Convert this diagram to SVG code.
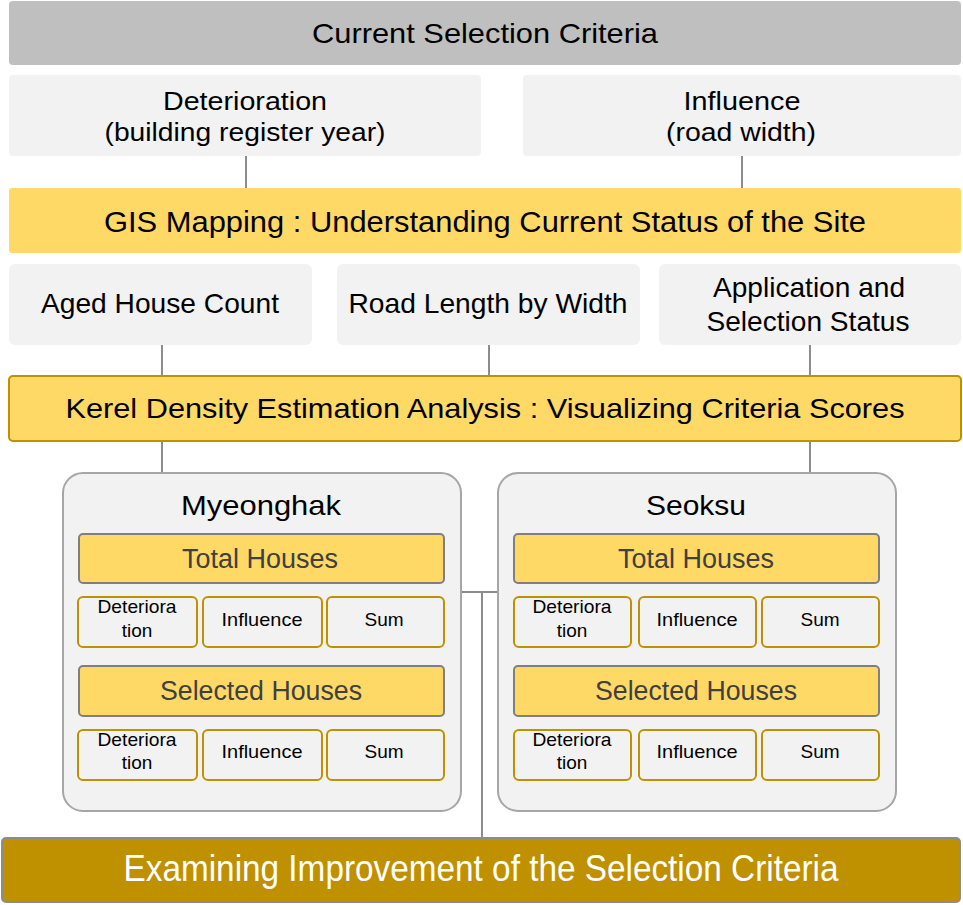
<svg xmlns="http://www.w3.org/2000/svg" width="963" height="905" viewBox="0 0 963 905">
<style>
text{font-family:"Liberation Sans","Noto Sans",Arial,sans-serif;text-anchor:middle;fill:#000}
.hdr{fill:#bfbfbf}
.lt{fill:#f2f2f2}
.yl{fill:#ffd966}
.ylb{fill:#ffd966;stroke:#bf9000;stroke-width:2}
.area{fill:#f2f2f2;stroke:#a6a6a6;stroke-width:2}
.sub{fill:#ffd966;stroke:#7f7f7f;stroke-width:2}
.cell{fill:#f2f2f2;stroke:#bf9000;stroke-width:2}
.conn{stroke:#8c8c8c;stroke-width:2;fill:none}
.t28{font-size:28px}
.t26{font-size:26px}
.t30{font-size:30px}
.st{font-size:27px;fill:#404040}
.sm{font-size:19px}
.bt{font-size:36px;fill:#fff}
</style>
<g id="connectors">
<line class="conn" x1="246" y1="156" x2="246" y2="188"/>
<line class="conn" x1="742" y1="156" x2="742" y2="188"/>
<line class="conn" x1="162" y1="345" x2="162" y2="376"/>
<line class="conn" x1="489" y1="345" x2="489" y2="376"/>
<line class="conn" x1="810" y1="345" x2="810" y2="376"/>
<line class="conn" x1="162" y1="441" x2="162" y2="473"/>
<line class="conn" x1="810" y1="441" x2="810" y2="473"/>
<line class="conn" x1="461" y1="592" x2="498" y2="592"/>
<line class="conn" x1="482" y1="592" x2="482" y2="838"/>
</g>
<g id="current-criteria">
<rect class="hdr" x="9" y="1" width="952" height="64" rx="4"/>
<text class="t28" x="485" y="43" textLength="346" lengthAdjust="spacingAndGlyphs">Current Selection Criteria</text>
</g>
<g id="deterioration">
<rect class="lt" x="9" y="75" width="472" height="81" rx="4"/>
<text class="t26" x="245" y="110" textLength="164" lengthAdjust="spacingAndGlyphs">Deterioration</text>
<text class="t26" x="245" y="141" textLength="281" lengthAdjust="spacingAndGlyphs">(building register year)</text>
</g>
<g id="influence">
<rect class="lt" x="523" y="75" width="438" height="81" rx="4"/>
<text class="t26" x="742" y="110" textLength="117" lengthAdjust="spacingAndGlyphs">Influence</text>
<text class="t26" x="741" y="141" textLength="150" lengthAdjust="spacingAndGlyphs">(road width)</text>
</g>
<g id="gis-mapping">
<rect class="yl" x="9" y="188" width="952" height="65" rx="3"/>
<text class="t30" x="485" y="232" textLength="762" lengthAdjust="spacingAndGlyphs">GIS Mapping : Understanding Current Status of the Site</text>
</g>
<g id="aged-house">
<rect class="lt" x="9" y="264" width="303" height="81" rx="6"/>
<text class="t28" x="160" y="313" textLength="238" lengthAdjust="spacingAndGlyphs">Aged House Count</text>
</g>
<g id="road-length">
<rect class="lt" x="337" y="264" width="303" height="81" rx="6"/>
<text class="t28" x="488" y="313" textLength="279" lengthAdjust="spacingAndGlyphs">Road Length by Width</text>
</g>
<g id="application">
<rect class="lt" x="659" y="264" width="302" height="81" rx="6"/>
<text class="t28" x="809" y="297" textLength="192" lengthAdjust="spacingAndGlyphs">Application and</text>
<text class="t28" x="808" y="331" textLength="203" lengthAdjust="spacingAndGlyphs">Selection Status</text>
</g>
<g id="kde">
<rect class="ylb" x="9" y="376" width="952" height="65" rx="4"/>
<text class="t28" x="485" y="418" textLength="839" lengthAdjust="spacingAndGlyphs">Kerel Density Estimation Analysis : Visualizing Criteria Scores</text>
</g>
<g id="myeonghak">
<rect class="area" x="63" y="473" width="398" height="338" rx="20"/>
<text class="t28" x="261" y="515" textLength="160" lengthAdjust="spacingAndGlyphs">Myeonghak</text>
<rect class="sub" x="79" y="534" width="365" height="49" rx="4"/>
<text class="st" x="260" y="568" textLength="156" lengthAdjust="spacingAndGlyphs">Total Houses</text>
<rect class="cell" x="78" y="597" width="119" height="50" rx="5"/>
<text class="sm" x="137" y="613" textLength="79" lengthAdjust="spacingAndGlyphs">Deteriora</text>
<text class="sm" x="137" y="637">tion</text>
<rect class="cell" x="203" y="597" width="119" height="50" rx="5"/>
<text class="sm" x="262" y="626" textLength="81" lengthAdjust="spacingAndGlyphs">Influence</text>
<rect class="cell" x="327" y="597" width="117" height="50" rx="5"/>
<text class="sm" x="384" y="626">Sum</text>
<rect class="sub" x="79" y="666" width="365" height="50" rx="4"/>
<text class="st" x="261" y="700" textLength="202" lengthAdjust="spacingAndGlyphs">Selected Houses</text>
<rect class="cell" x="78" y="730" width="119" height="50" rx="5"/>
<text class="sm" x="137" y="746" textLength="79" lengthAdjust="spacingAndGlyphs">Deteriora</text>
<text class="sm" x="137" y="769">tion</text>
<rect class="cell" x="203" y="730" width="119" height="50" rx="5"/>
<text class="sm" x="262" y="758" textLength="81" lengthAdjust="spacingAndGlyphs">Influence</text>
<rect class="cell" x="327" y="730" width="117" height="50" rx="5"/>
<text class="sm" x="384" y="758">Sum</text>
</g>
<g id="seoksu">
<rect class="area" x="498" y="473" width="398" height="338" rx="20"/>
<text class="t28" x="696" y="515" textLength="100" lengthAdjust="spacingAndGlyphs">Seoksu</text>
<rect class="sub" x="514" y="534" width="365" height="49" rx="4"/>
<text class="st" x="696" y="568" textLength="156" lengthAdjust="spacingAndGlyphs">Total Houses</text>
<rect class="cell" x="514" y="597" width="117" height="50" rx="5"/>
<text class="sm" x="572" y="613" textLength="79" lengthAdjust="spacingAndGlyphs">Deteriora</text>
<text class="sm" x="572" y="637">tion</text>
<rect class="cell" x="639" y="597" width="117" height="50" rx="5"/>
<text class="sm" x="697" y="626" textLength="81" lengthAdjust="spacingAndGlyphs">Influence</text>
<rect class="cell" x="762" y="597" width="117" height="50" rx="5"/>
<text class="sm" x="820" y="626">Sum</text>
<rect class="sub" x="514" y="666" width="365" height="50" rx="4"/>
<text class="st" x="696" y="700" textLength="202" lengthAdjust="spacingAndGlyphs">Selected Houses</text>
<rect class="cell" x="514" y="730" width="117" height="50" rx="5"/>
<text class="sm" x="572" y="746" textLength="79" lengthAdjust="spacingAndGlyphs">Deteriora</text>
<text class="sm" x="572" y="769">tion</text>
<rect class="cell" x="639" y="730" width="117" height="50" rx="5"/>
<text class="sm" x="697" y="758" textLength="81" lengthAdjust="spacingAndGlyphs">Influence</text>
<rect class="cell" x="762" y="730" width="117" height="50" rx="5"/>
<text class="sm" x="820" y="758">Sum</text>
</g>
<g id="examining">
<rect x="2" y="838" width="958" height="64" rx="4" fill="#bf9000" stroke="#8c8c8c" stroke-width="2"/>
<text class="bt" x="481" y="881" textLength="715" lengthAdjust="spacingAndGlyphs">Examining Improvement of the Selection Criteria</text>
</g>
</svg>
